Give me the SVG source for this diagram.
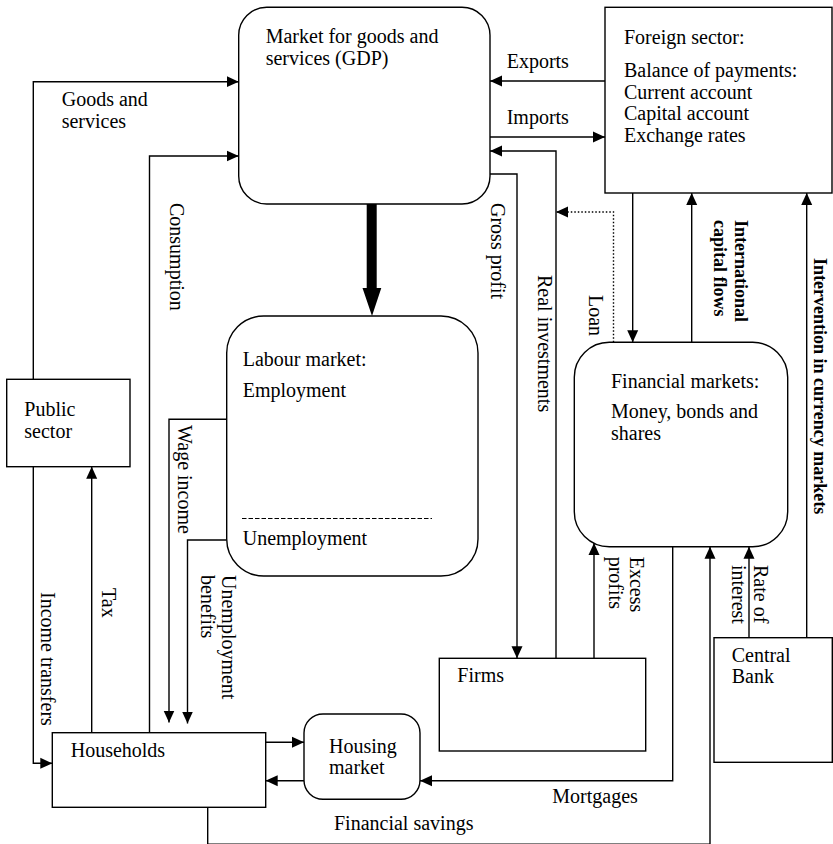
<svg xmlns="http://www.w3.org/2000/svg" width="833" height="844" viewBox="0 0 833 844">
  <style>
    .box { fill: #fff; stroke: #000; stroke-width: 1.4; }
    .lbl { font-family: "Liberation Serif", "Times New Roman", serif; font-size: 20px; fill: #000; }
    .bold { font-family: "Liberation Serif", "Times New Roman", serif; font-size: 18px; font-weight: bold; fill: #000; }
    .flow { fill: none; stroke: #000; stroke-width: 1.4; }
    .arr { marker-end: url(#head); }
    .dot { stroke-dasharray: 1.5 2; }
  </style>
  <defs>
    <marker id="head" markerUnits="userSpaceOnUse" markerWidth="12" markerHeight="12" refX="12" refY="6" orient="auto">
      <path d="M0,0.5 L12,6 L0,11.5 Z" fill="#000"/>
    </marker>
  </defs>
  <rect width="833" height="844" fill="#fff"/>

  <!-- connectors -->
  <g id="connectors">
    <path class="flow arr" d="M33.3,379.3 V81.7 H238.7"/>
    <path class="flow arr" d="M149.5,732.7 V156 H238.7"/>
    <path class="flow arr" d="M605,81 H490"/>
    <path class="flow arr" d="M490,137 H605"/>
    <path class="flow arr" d="M556,658.3 V151 H490"/>
    <path class="flow arr" d="M490,174 H517 V658.3"/>
    <path class="flow arr dot" d="M613.5,342.3 V212 H556"/>
    <path class="flow arr" d="M632.7,193 V342.3"/>
    <path class="flow arr" d="M691.7,342.3 V193"/>
    <path class="flow arr" d="M806.7,637.7 V193"/>
    <path class="flow arr" d="M749,637.7 V546.7"/>
    <path class="flow arr" d="M594,658.3 V543"/>
    <path class="flow arr" d="M672.7,546.7 V780.7 H420"/>
    <path class="flow arr" d="M207.7,807.3 V844.3 H710 V546.7"/>
    <path class="flow arr" d="M33.3,466.7 V763.3 H52.3"/>
    <path class="flow arr" d="M91.7,732.7 V466.7"/>
    <path class="flow arr" d="M226.7,419.3 H169 V722.5"/>
    <path class="flow arr" d="M226.7,540 H187.5 V723.5"/>
    <path class="flow arr" d="M265.7,742.3 H304"/>
    <path class="flow arr" d="M304,780.7 H265.7"/>
    <!-- heavy output arrow -->
    <path d="M366.7,204 H376.7 V288 H381.3 L372,316 L362.5,288 H366.7 Z" fill="#000"/>
  </g>

  <!-- connector labels -->
  <g id="flow-labels">
    <text class="lbl" x="61.7" y="106">Goods and</text>
    <text class="lbl" x="61.7" y="128">services</text>
    <text class="lbl" x="506.7" y="68">Exports</text>
    <text class="lbl" x="506.7" y="124">Imports</text>
    <text class="lbl" transform="translate(169.5,203) rotate(90)">Consumption</text>
    <text class="lbl" transform="translate(490.5,203) rotate(90)">Gross profit</text>
    <text class="lbl" transform="translate(538,275) rotate(90)">Real investments</text>
    <text class="lbl" transform="translate(589.3,295) rotate(90)">Loan</text>
    <text class="bold" transform="translate(734.5,220) rotate(90)">International<tspan x="0" y="20.5">capital flows</tspan></text>
    <text class="bold" transform="translate(814,258) rotate(90)">Intervention in currency markets</text>
    <text class="lbl" transform="translate(40.7,592) rotate(90)">Income transfers</text>
    <text class="lbl" transform="translate(101.7,588) rotate(90)">Tax</text>
    <text class="lbl" transform="translate(178,425) rotate(90)">Wage income</text>
    <text class="lbl" transform="translate(221.5,575) rotate(90)">Unemployment<tspan x="0" y="21">benefits</tspan></text>
    <text class="lbl" transform="translate(629.5,556.7) rotate(90)">Excess<tspan x="0" y="21">profits</tspan></text>
    <text class="lbl" transform="translate(753.5,565) rotate(90)">Rate of<tspan x="0" y="21.5">interest</tspan></text>
    <text class="lbl" x="552.3" y="803.3">Mortgages</text>
    <text class="lbl" x="334" y="830">Financial savings</text>
  </g>

  <g id="goods-market">
    <rect class="box" x="238.7" y="7.3" width="251.3" height="196.7" rx="28" ry="28"/>
    <text class="lbl" x="265.7" y="43">Market for goods and</text>
    <text class="lbl" x="265.7" y="65">services (GDP)</text>
  </g>

  <g id="foreign-sector">
    <rect class="box" x="605" y="7.3" width="227" height="185.7"/>
    <text class="lbl" x="624" y="44">Foreign sector:</text>
    <text class="lbl" x="624" y="77">Balance of payments:</text>
    <text class="lbl" x="624" y="98.7">Current account</text>
    <text class="lbl" x="624" y="120.3">Capital account</text>
    <text class="lbl" x="624" y="142">Exchange rates</text>
  </g>

  <g id="labour-market">
    <rect class="box" x="226.7" y="316" width="251.3" height="260" rx="37" ry="37"/>
    <text class="lbl" x="242.7" y="365.5">Labour market:</text>
    <text class="lbl" x="242.7" y="396.5">Employment</text>
    <line x1="242" y1="518.5" x2="432" y2="518.5" stroke="#000" stroke-width="1.2" stroke-dasharray="4.5 2"/>
    <text class="lbl" x="242.7" y="545">Unemployment</text>
  </g>

  <g id="financial-markets">
    <rect class="box" x="574.3" y="342.3" width="213.4" height="204.4" rx="35" ry="35"/>
    <text class="lbl" x="611" y="388.3">Financial markets:</text>
    <text class="lbl" x="611" y="418.3">Money, bonds and</text>
    <text class="lbl" x="611" y="440">shares</text>
  </g>

  <g id="public-sector">
    <rect class="box" x="6.7" y="379.3" width="123.3" height="87.4"/>
    <text class="lbl" x="24.3" y="416">Public</text>
    <text class="lbl" x="24.3" y="438">sector</text>
  </g>

  <g id="firms">
    <rect class="box" x="439.3" y="658.3" width="206.4" height="92.7"/>
    <text class="lbl" x="457.3" y="682.3">Firms</text>
  </g>

  <g id="central-bank">
    <rect class="box" x="714" y="637.7" width="118.3" height="124.6"/>
    <text class="lbl" x="731.7" y="661.7">Central</text>
    <text class="lbl" x="731.7" y="683.3">Bank</text>
  </g>

  <g id="households">
    <rect class="box" x="52.3" y="732.7" width="213.4" height="74.6"/>
    <text class="lbl" x="70.7" y="756.7">Households</text>
  </g>

  <g id="housing-market">
    <rect class="box" x="304" y="714" width="116" height="85.3" rx="19" ry="19"/>
    <text class="lbl" x="329" y="753.3">Housing</text>
    <text class="lbl" x="329" y="774">market</text>
  </g>
</svg>
